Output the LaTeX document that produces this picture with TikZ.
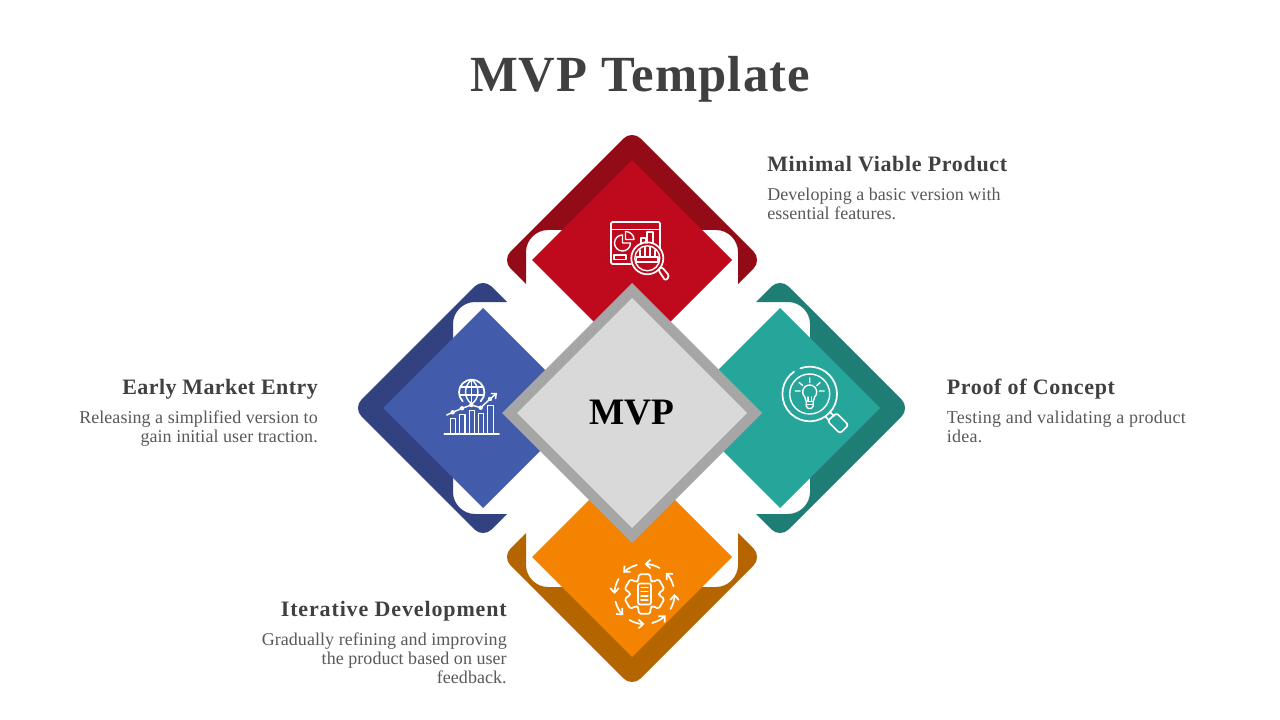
\documentclass[tikz,border=0pt]{standalone}
\usepackage{fontspec}
\setmainfont{Liberation Serif}
\usetikzlibrary{arrows.meta}
\definecolor{redin}{HTML}{BE0A1C}\definecolor{redout}{HTML}{930B16}
\definecolor{bluein}{HTML}{425CAB}\definecolor{blueout}{HTML}{324280}
\definecolor{tealin}{HTML}{26A69A}\definecolor{tealout}{HTML}{1E7D74}
\definecolor{orgin}{HTML}{F38300}\definecolor{orgout}{HTML}{B56500}
\definecolor{headc}{HTML}{404040}\definecolor{bodyc}{HTML}{595959}
\newcommand{\petal}[5]{%
  \begin{scope}[shift={(#1,#2)},rotate=#3]
    \fill[#5] (-106,24) -- (-121.5,8.5) .. controls (-126.2,3.8) and (-126.2,-3.8) .. (-121.5,-8.5)
      -- (-8.5,-121.5) .. controls (-3.8,-126.2) and (3.8,-126.2) .. (8.5,-121.5)
      -- (121.5,-8.5) .. controls (126.2,-3.8) and (126.2,3.8) .. (121.5,8.5)
      -- (106,24) -- (106,-8) .. controls (106,-20) and (96,-30) .. (84,-30)
      -- (-84,-30) .. controls (-96,-30) and (-106,-20) .. (-106,-8) -- cycle;
    \fill[#4] (-100,0) -- (0,-100) -- (100,0) -- (0,100) -- cycle;
  \end{scope}}
\tikzset{
  ico/.style={draw=white,line width=1.3pt,line cap=round,line join=round,fill=none},
  thin ico/.style={ico,line width=1.05pt},
  titletext/.style={font=\fontsize{38}{40}\selectfont\bfseries\addfontfeatures{LetterSpace=2.2},text=headc,inner sep=0pt},
  headtext/.style={font=\fontsize{16.5}{18}\selectfont\bfseries\addfontfeatures{LetterSpace=3},text=headc,inner sep=0pt},
  bodytext/.style={font=\fontsize{13.5}{14.25}\selectfont\addfontfeatures{LetterSpace=0.3},text=bodyc,inner sep=0pt},
  leftblock/.style={bodytext,align=left,anchor=north west},
  rightblock/.style={bodytext,align=right,anchor=north east},
}
\begin{document}
\begin{tikzpicture}[x=.75pt,y=-.75pt]
\useasboundingbox (0,0) rectangle (1280,720);
\fill[white] (0,0) rectangle (1280,720);
\node[titletext,anchor=base] (title) at (640,92) {MVP Template};
% petals
\petal{632}{260}{0}{redin}{redout}
\petal{483}{408}{90}{bluein}{blueout}
\petal{780}{408}{-90}{tealin}{tealout}
\petal{632}{557}{180}{orgin}{orgout}
% centre
\fill[fill=black!35] (502,413) -- (632,283) -- (762,413) -- (632,543) -- cycle;
\fill[fill=black!15] (517,413) -- (632,298) -- (747,413) -- (632,528) -- cycle;
\node[inner sep=0pt,font=\fontsize{28}{30}\selectfont\bfseries,text=black] (mvp) at (632,413) {MVP};
% icon: dashboard + magnifier
\draw[ico,rounded corners=1pt] (631,264) -- (611,264) -- (611,222) -- (660,222) -- (660,248);
\draw[thin ico] (611,229.5) -- (660,229.5);
\begin{scope}[shift={(622.5,243)},x=.75pt,y=.75pt]
  \draw[thin ico] (0,8) arc[start angle=90,delta angle=270,radius=8] -- (0,0) -- cycle;
\end{scope}
\draw[thin ico] (625.5,231.5) -- (625.5,239.5) -- (634,239.5) .. controls (634,235) and (630,231.5) .. (625.5,231.5) -- cycle;
\draw[thin ico] (614,255) rectangle (626,259.5);
\draw[thin ico] (641,244) -- (641,238) -- (645.5,238) -- (645.5,243);
\draw[thin ico] (647,243) -- (647,232) -- (653,232) -- (653,243);
\draw[ico] (647.3,258.3) circle[radius=16];
\draw[thin ico] (647.3,258.3) circle[radius=12.5];
\draw[thin ico] (640,250) -- (640,257) (645,247.5) -- (645,257) (650,247.5) -- (650,257) (655,250) -- (655,257);
\draw[thin ico] (636.5,257) -- (658,257) -- (658,262) -- (636.5,262) -- cycle;
\draw[ico,rounded corners=2pt] (658,269.5) -- (661.5,266.5) -- (669.5,276) -- (665.5,281) -- cycle;
% icon: globe + growth chart
\begin{scope}[shift={(471.7,392.3)},x=.75pt,y=.75pt]
  \draw[ico] (225:12.7) arc[start angle=225,delta angle=-270,radius=12.7];
\end{scope}
\draw[thin ico] (471.7,379.6) -- (471.7,403.5);
\draw[thin ico] (471.7,379.6) .. controls (463.5,386) and (463.5,398) .. (471.7,404);
\draw[thin ico] (471.7,379.6) .. controls (480,386) and (480,398) .. (471.7,404);
\draw[thin ico] (460.5,387) -- (483,387) (459.5,395) -- (484,395);
\draw[ico] (444.3,434.3) -- (499,434.3);
\draw[thin ico] (450.7,434) -- (450.7,418.3) -- (455.7,418.3) -- (455.7,434);
\draw[thin ico] (459.3,434) -- (459.3,414.3) -- (465,414.3) -- (465,434);
\draw[thin ico] (469.3,434) -- (469.3,410.3) -- (474.7,410.3) -- (474.7,434);
\draw[thin ico] (478.3,434) -- (478.3,413.3) -- (483.7,413.3) -- (483.7,434);
\draw[thin ico] (487.3,434) -- (487.3,405.7) -- (493.3,405.7) -- (493.3,434);
\draw[thin ico,-{Straight Barb[length=3pt,width=5.5pt]}] (446.7,415) -- (452.7,412.3) -- (462,408.3) -- (471.3,405) -- (480.7,407.7) -- (490,399) -- (497,393);
\foreach \p in {(452.7,412.3),(462,408.3),(471.3,405),(480.7,407.7),(490,399)} \fill[white] \p circle[radius=2.2];
% icon: bulb + magnifier
\begin{scope}[shift={(809.7,394)},x=.75pt,y=.75pt]
  \draw[ico] (125:27.3) arc[start angle=125,delta angle=345,radius=27.3];
  \draw[thin ico] (0,0) circle[radius=20];
  \draw[thin ico] (-4.95,-2.95) arc[start angle=225,delta angle=-270,radius=7] -- (3.5,-7.5) -- (3.5,-12) -- (1.5,-14.5) -- (-1.5,-14.5) -- (-3.5,-12) -- (-3.5,-7.5) -- cycle;
  \draw[thin ico] (-3.5,-7.5) -- (3.5,-7.5) (-3.5,-10.5) -- (3.5,-10.5) (-1.8,-7.5) -- (-1.8,-3) (1.8,-7.5) -- (1.8,-3);
  \draw[thin ico] (0,16) -- (0,11.5) (-10.5,11.5) -- (-7,8.5) (10.5,11.5) -- (7,8.5) (-14.5,3) -- (-9.5,3) (14.5,3) -- (9.5,3);
\end{scope}
\draw[ico] (825.5,416.5) -- (829,420.5) (830,412) -- (834,416);
\draw[ico,rounded corners=2pt] (827.5,421) -- (836.5,413) -- (848.5,425) -- (840,433.5) -- cycle;
% icon: gear + cycle
\begin{scope}[shift={(644.5,594)},x=.75pt,y=.75pt]
  \foreach \a in {90,135,180,225,270,315,0,45}
    \draw[ico,-{Straight Barb[length=3.5pt,width=6.5pt]}] ({\a-30}:30) arc[start angle=\a-30,delta angle=30,radius=30];
  \draw[ico,rounded corners=1.2pt] (116:14.5)
    \foreach \a in {90,30,-30,-90,-150,-210} { -- (\a+16:20.5) -- (\a-16:20.5) -- (\a-26:14.5) -- (\a-34:14.5)} -- cycle;
  \draw[ico,rounded corners=1.5pt] (-6.5,-10.5) rectangle (6.5,10.5);
  \draw[thin ico] (-3.5,6.5) -- (3.5,6.5) (-3.5,2.5) -- (3.5,2.5) (-3.5,-2) -- (3.5,-2) (-3.5,-6) -- (3.5,-6);
\end{scope}
% labels
\node[headtext,anchor=base west] (h1) at (767,171.5) {Minimal Viable Product};
\node[leftblock] (b1) at (767,188) {Developing a basic version with\\essential features.};
\node[headtext,anchor=base west] (h2) at (946.5,394) {Proof of Concept};
\node[leftblock] (b2) at (946.5,411) {\addfontfeatures{LetterSpace=1.5}Testing and validating a product\\\addfontfeatures{LetterSpace=1.5}idea.};
\node[headtext,anchor=base east] (h3) at (318,394) {\addfontfeatures{LetterSpace=1.8}Early Market Entry};
\node[rightblock] (b3) at (318,411) {Releasing a simplified version to\\gain initial user traction.};
\node[headtext,anchor=base east] (h4) at (507,616) {\addfontfeatures{LetterSpace=3.9}Iterative Development};
\node[rightblock] (b4) at (507,633) {Gradually refining and improving\\the product based on user\\feedback.};
\end{tikzpicture}
\end{document}
